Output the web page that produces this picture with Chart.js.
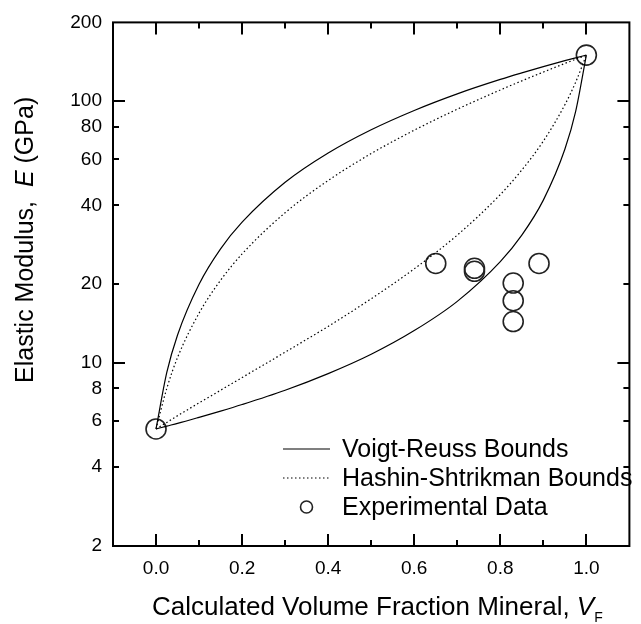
<!DOCTYPE html>
<html>
<head>
<meta charset="utf-8">
<script src="https://cdn.jsdelivr.net/npm/chart.js@4.4.0/dist/chart.umd.min.js"></script>
<style>
  html, body { margin: 0; padding: 0; background: #fff; }
</style>
</head>
<body>
<canvas id="chart" width="641" height="624"></canvas>
<script>
// volume fraction mineral where the bound curves were read
const vf = [0, 0.025, 0.05, 0.1, 0.15, 0.2, 0.3, 0.4, 0.5, 0.6, 0.7, 0.8, 0.85, 0.9, 0.95, 0.975, 1.0];
const voigt = [5.6, 9.2, 12.8, 20.0, 27.3, 34.5, 49.0, 63.4, 77.8, 92.2, 106.7, 121.1, 128.3, 135.6, 142.8, 146.4, 150];
const reuss = [5.6, 5.74, 5.88, 6.2, 6.55, 6.94, 7.87, 9.11, 10.8, 13.3, 17.2, 24.4, 30.8, 41.9, 65.5, 91.2, 150];
const hsUpper = [5.6, 8.0, 10.5, 15.5, 20.7, 26.1, 37.5, 49.8, 63.1, 77.5, 93.2, 110.4, 119.6, 129.2, 139.4, 144.6, 150];
const hsLower = [5.6, 5.93, 6.29, 7.04, 7.87, 8.8, 11.0, 13.8, 17.6, 22.9, 30.8, 44.0, 54.6, 70.4, 96.9, 118.1, 150];

// experimental points
const expVf = [0, 0.65, 0.74, 0.74, 0.83, 0.83, 0.83, 0.89, 1.0];
const expE = [5.6, 24, 23, 22.4, 20.2, 17.3, 14.4, 24, 150];

const seriesNames = ['Voigt-Reuss Bounds', 'Hashin-Shtrikman Bounds', 'Experimental Data'];

const xTickVals = [0, 0.2, 0.4, 0.6, 0.8, 1.0];
const xMinorVals = [0.1, 0.3, 0.5, 0.7, 0.9];
const yTickVals = [2, 4, 6, 8, 10, 20, 40, 60, 80, 100, 200];
const yMajorVals = [10, 100];

const FONT = '"Liberation Sans", Arial, sans-serif';

function pts(ys) {
  return vf.map((v, i) => ({ x: v, y: ys[i] }));
}

// draw a run of text pieces [text, fontString, dy]
function drawRuns(ctx, runs, x, y) {
  let cx = x;
  runs.forEach(r => {
    ctx.font = r[1];
    ctx.fillText(r[0], cx, y + (r[2] || 0));
    cx += ctx.measureText(r[0]).width;
  });
}

const framePlugin = {
  id: 'frame',
  afterDraw(chart) {
    const ctx = chart.ctx;
    const a = chart.chartArea;
    const xs = chart.scales.x, ys = chart.scales.y;
    ctx.save();
    ctx.strokeStyle = '#000';
    ctx.fillStyle = '#000';
    ctx.lineWidth = 2;
    ctx.strokeRect(a.left, a.top, a.right - a.left, a.bottom - a.top);

    // inward ticks, mirrored on all four sides
    ctx.beginPath();
    const xt = (v, len) => {
      const px = Math.round(xs.getPixelForValue(v));
      ctx.moveTo(px, a.bottom); ctx.lineTo(px, a.bottom - len);
      ctx.moveTo(px, a.top); ctx.lineTo(px, a.top + len);
    };
    xTickVals.forEach(v => xt(v, 12));
    xMinorVals.forEach(v => xt(v, 6));
    yTickVals.forEach(v => {
      if (v === 2 || v === 200) return;
      const len = yMajorVals.includes(v) ? 12 : 6;
      const py = Math.round(ys.getPixelForValue(v));
      ctx.moveTo(a.left, py); ctx.lineTo(a.left + len, py);
      ctx.moveTo(a.right, py); ctx.lineTo(a.right - len, py);
    });
    ctx.stroke();

    // axis titles
    ctx.textBaseline = 'alphabetic';
    ctx.textAlign = 'left';
    drawRuns(ctx, [
      ['Calculated Volume Fraction Mineral, ', '26px ' + FONT],
      ['V', 'italic 26px ' + FONT],
      ['F', '14px ' + FONT, 7]
    ], 152, 615);

    ctx.save();
    ctx.translate(33, 383);
    ctx.rotate(-Math.PI / 2);
    drawRuns(ctx, [
      ['Elastic Modulus,  ', '25px ' + FONT],
      ['E', 'italic 25px ' + FONT],
      [' (GPa)', '25px ' + FONT]
    ], 0, 0);
    ctx.restore();

    // legend
    const lx0 = 283, lx1 = 330, tx = 342;
    const rows = [449, 478, 507];
    ctx.font = '25px ' + FONT;
    ctx.textBaseline = 'middle';
    ctx.lineWidth = 1.2;
    ctx.beginPath();
    ctx.moveTo(lx0, rows[0]); ctx.lineTo(lx1, rows[0]);
    ctx.stroke();
    ctx.setLineDash([1.5, 2.5]);
    ctx.beginPath();
    ctx.moveTo(lx0, rows[1]); ctx.lineTo(lx1, rows[1]);
    ctx.stroke();
    ctx.setLineDash([]);
    ctx.lineWidth = 1.6;
    ctx.strokeStyle = '#222';
    ctx.beginPath();
    ctx.arc((lx0 + lx1) / 2, rows[2], 6, 0, Math.PI * 2);
    ctx.stroke();
    seriesNames.forEach((n, i) => ctx.fillText(n, tx, rows[i] + 1));
    ctx.restore();
  }
};

const lineBase = {
  showLine: true,
  pointRadius: 0,
  borderColor: '#000',
  borderWidth: 1.2,
  fill: false,
  cubicInterpolationMode: 'monotone'
};

new Chart(document.getElementById('chart'), {
  type: 'scatter',
  data: {
    datasets: [
      Object.assign({ label: 'Voigt', data: pts(voigt) }, lineBase),
      Object.assign({ label: 'Reuss', data: pts(reuss) }, lineBase),
      Object.assign({ label: 'HS upper', data: pts(hsUpper), borderDash: [1.5, 2.5], borderWidth: 1.3 }, lineBase),
      Object.assign({ label: 'HS lower', data: pts(hsLower), borderDash: [1.5, 2.5], borderWidth: 1.3 }, lineBase),
      {
        label: 'Experimental',
        data: expVf.map((v, i) => ({ x: v, y: expE[i] })),
        showLine: false,
        pointRadius: 10,
        pointHoverRadius: 10,
        pointBorderWidth: 1.6,
        pointBorderColor: '#222',
        pointBackgroundColor: 'rgba(0,0,0,0)',
        clip: false
      }
    ]
  },
  options: {
    responsive: false,
    animation: false,
    devicePixelRatio: 1,
    layout: { padding: { top: 16, right: 11, left: 0, bottom: 0 } },
    plugins: { legend: { display: false }, tooltip: { enabled: false } },
    scales: {
      x: {
        type: 'linear',
        min: -0.1,
        max: 1.1,
        afterBuildTicks: s => { s.ticks = xTickVals.map(v => ({ value: v })); },
        afterFit: s => { s.height = 78; },
        ticks: {
          callback: v => Number(v).toFixed(1),
          font: { family: FONT, size: 19 },
          color: '#000',
          padding: 11,
          maxRotation: 0,
          autoSkip: false
        },
        grid: { display: false, drawTicks: false },
        border: { display: false }
      },
      y: {
        type: 'logarithmic',
        min: 2,
        max: 200,
        afterBuildTicks: s => { s.ticks = yTickVals.map(v => ({ value: v })); },
        afterFit: s => { s.width = 113; },
        ticks: {
          callback: v => String(v),
          font: { family: FONT, size: 19 },
          color: '#000',
          padding: 11,
          autoSkip: false
        },
        grid: { display: false, drawTicks: false },
        border: { display: false }
      }
    }
  },
  plugins: [framePlugin]
});
</script>
</body>
</html>
